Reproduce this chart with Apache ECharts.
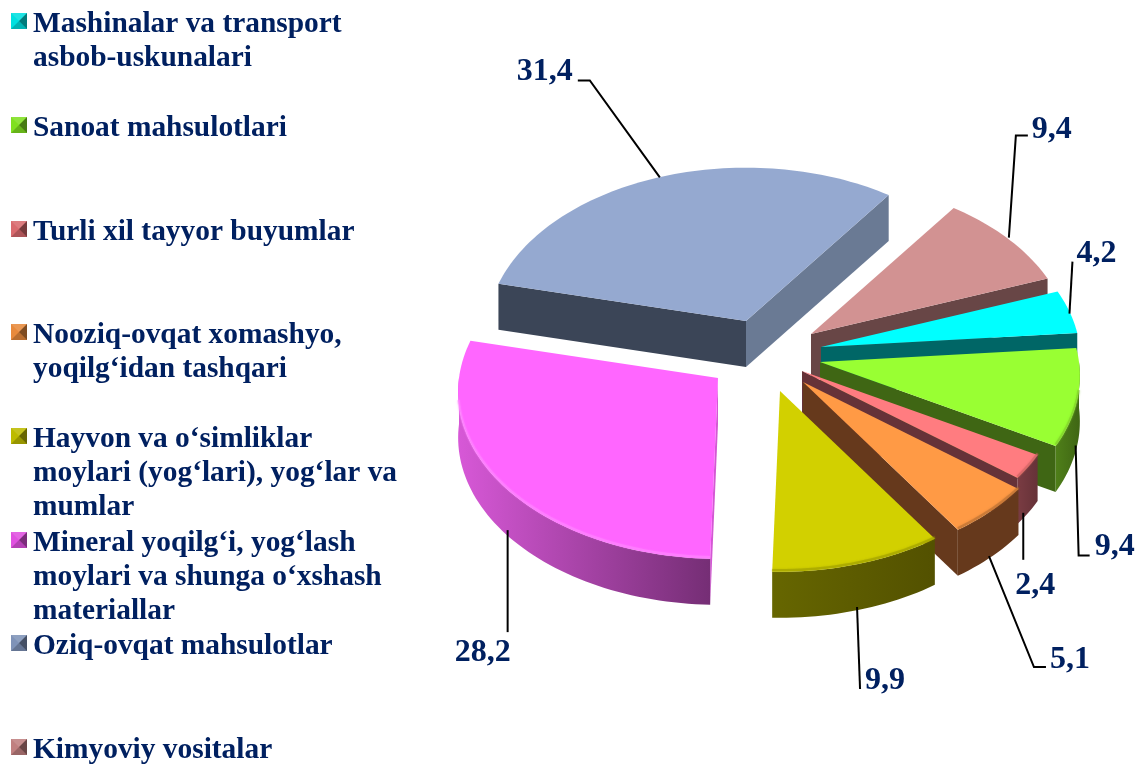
<!DOCTYPE html>
<html>
<head>
<meta charset="utf-8">
<style>html,body{margin:0;padding:0;background:#fff}#c{width:1142px;height:765px}</style>
<script src="https://cdn.jsdelivr.net/npm/echarts@6/dist/echarts.min.js"></script>
</head>
<body>
<div id="c"></div>
<script>
// ---- data ----
const categories = [
  'Mashinalar va transport\nasbob-uskunalari',
  'Sanoat mahsulotlari',
  'Turli xil tayyor buyumlar',
  'Nooziq-ovqat xomashyo,\nyoqilg‘idan tashqari',
  'Hayvon va o‘simliklar\nmoylari (yog‘lari), yog‘lar va\nmumlar',
  'Mineral yoqilg‘i, yog‘lash\nmoylari va shunga o‘xshash\nmateriallar',
  'Oziq-ovqat mahsulotlar',
  'Kimyoviy vositalar'
];
const values = [4.2, 9.4, 2.4, 5.1, 9.9, 28.2, 31.4, 9.4];

// ---- style and layout ----
const topColors  = ['#00FFFF','#99FF33','#FF7C80','#FF9A45','#D2D000','#FF66FF','#95A9D0','#D29292'];
const wallColors = ['#006666','#3F6614','#663238','#66391C','#535100','#D458D4','#3B4557','#684646'];
const endWallColors = ['#006666','#3F6614','#663238','#66391C','#535100','#8A3A8A','#6A7A94','#684646'];
const arcGradients = [null,['#4F7F19','#3F6614'],['#7A3C43','#663238'],['#66391C','#66391C'],['#666600','#535100'],['#D758D7','#752E75'],null,null];
const edgeColors = [null,'#7CC828','#C8605F','#B06A30','#9A9800','#FF8CFF',null,null];
const legendColors = ['#00E0E0','#80E020','#D96A6E','#E88A3C','#BDBB00','#E050E0','#7F93B8','#C08080'];
const paintOrder = [3,4,5,6,7,8,1,2];           // z of each slice, back to front
const startAngle = 70;                           // degrees clockwise from the top
const radius = 259, tilt = 0.645, perspective = 0.082, depth = 46;
const sliceApex = [[821,347],[820,362],[802,371],[803,382],[780,391],[718,378],[746,321],[811,334]];
const leaders = [
  {nudge:[0,2],   steps:[[3,-52]],          label:[4,-8],   align:'left'},
  {nudge:[-2,2],  steps:[[3,110],[11,0]],   label:[5,-9],   align:'left'},
  {nudge:[-5,0],  steps:[[0,47]],           label:[12,26],  align:'center'},
  {nudge:[-2,-1], steps:[[45,111],[12,0]],  label:[4,-7],   align:'left'},
  {nudge:[-1,-3], steps:[[3,82]],           label:[5,-8],   align:'left'},
  {nudge:[5,-1],  steps:[[0,102]],          label:[-25,21], align:'center'},
  {nudge:[-3,1],  steps:[[-70,-97],[-12,0]],label:[-5,-9],  align:'right'},
  {nudge:[1,-1],  steps:[[7,-102],[12,0]],  label:[4,-6],   align:'left'}
];
const legendIconTop = [13,117,221,324,428,532,635,739];
const iconSize = 16, iconLeft = 11, textLeft = 12, textAbove = 5.5, lineH = 34;
const inkColor = '#002060';

// ---- geometry from the values ----
const total = values.reduce((a,b)=>a+b,0);
let running = startAngle;
const spans = values.map(v => { const s = running, e = running + v/total*360; running = e; return [s,e]; });

function rim(i, deg, drop) {
  const t = deg*Math.PI/180, x = radius*Math.sin(t), y = -radius*Math.cos(t);
  const k = 1 + perspective*y/radius, a = sliceApex[i];
  return [a[0] + x*k, a[1] + y*tilt*k + (drop||0)];
}
function arc(i, a, b, drop) {
  const pts = [], n = Math.max(2, Math.ceil(Math.abs(b-a)/1.5));
  for (let j = 0; j <= n; j++) pts.push(rim(i, a+(b-a)*j/n, drop));
  return pts;
}
function sliceGroup(i) {
  const [s,e] = spans[i], a = sliceApex[i], ab = [a[0],a[1]+depth], kids = [];
  const wall = (deg, fill) => kids.push({type:'polygon', shape:{points:[a, rim(i,deg), rim(i,deg,depth), ab]}, style:{fill}});
  if (Math.sin(s*Math.PI/180) < 0) wall(s, wallColors[i]);
  if (Math.sin(e*Math.PI/180) > 0) wall(e, endWallColors[i]);
  const from = Math.max(s,90), to = Math.min(e,270);
  if (to > from) {
    const g = arcGradients[i];
    const fill = g ? new echarts.graphic.LinearGradient(0,0,1,0,[{offset:0,color:g[0]},{offset:1,color:g[1]}]) : wallColors[i];
    kids.push({type:'polygon', shape:{points: arc(i,from,to).concat(arc(i,to,from,depth))}, style:{fill}});
  }
  kids.push({type:'polygon', shape:{points:[a].concat(arc(i,s,e))}, style:{fill:topColors[i]}});
  if (to > from && edgeColors[i]) {
    kids.push({type:'polyline', shape:{points:arc(i,Math.max(from,100),Math.min(to,262),-1.5)},
      style:{fill:null, stroke:edgeColors[i], lineWidth:2.5, opacity:0.45, shadowBlur:2, shadowColor:edgeColors[i]}});
  }
  // leader and value label
  const mid = (s+e)/2, front = Math.cos(mid*Math.PI/180) < 0, L = leaders[i];
  const p0 = rim(i, mid, front ? depth : 0);
  let p = [p0[0]+L.nudge[0], p0[1]+L.nudge[1]];
  const line = [p];
  L.steps.forEach(d => { p = [p[0]+d[0], p[1]+d[1]]; line.push(p); });
  kids.push({type:'polyline', shape:{points:line}, style:{fill:null, stroke:'#000', lineWidth:2}});
  kids.push({type:'text', style:{text:String(values[i]).replace('.',','), x:p[0]+L.label[0], y:p[1]+L.label[1],
    fill:inkColor, font:'bold 32px "Liberation Serif"', textAlign:L.align, textVerticalAlign:'middle'}});
  return {type:'group', children:kids};
}

// ---- legends: one per entry because the reference spaces them unevenly.
// The bevelled bullets sit on the first text line, so they are drawn as graphics. ----
const legends = categories.map((name,i) => ({
  left: textLeft, top: legendIconTop[i] - textAbove, padding: 0, orient:'vertical',
  itemWidth: iconSize, itemHeight: iconSize, icon:'rect',
  selectedMode:false,
  data:[{name, icon:'rect', itemStyle:{color:legendColors[i], opacity:0}}],
  textStyle:{color:inkColor, fontFamily:'Liberation Serif', fontWeight:'bold', fontSize:29.4, lineHeight:lineH}
}));
const bullets = [];
legendIconTop.forEach((y,i) => {
  const x = iconLeft, w = iconSize, cx = x+w/2, cy = y+w/2;
  bullets.push({type:'rect', z:100, silent:true, shape:{x,y,width:w,height:w}, style:{fill:legendColors[i]}});
  bullets.push({type:'polygon', z:101, silent:true, shape:{points:[[x+w,y],[x+w,y+w],[cx,cy]]}, style:{fill:'rgba(0,0,0,0.45)'}});
  bullets.push({type:'polygon', z:101, silent:true, shape:{points:[[x,y+w],[x+w,y+w],[cx,cy]]}, style:{fill:'rgba(0,0,0,0.2)'}});
  bullets.push({type:'polygon', z:101, silent:true, shape:{points:[[x,y],[x+w,y],[cx,cy]]}, style:{fill:'rgba(255,255,255,0.12)'}});
});

const chart = echarts.init(document.getElementById('c'), null, {renderer:'canvas'});
chart.setOption({
  backgroundColor:'#fff',
  animation:false,
  tooltip:{show:false},
  legend: legends,
  graphic: bullets,
  series: categories.map((name,i) => ({
    type:'custom', name, coordinateSystem:'none', z:paintOrder[i]+1, silent:true,
    itemStyle:{color:legendColors[i]},
    data:[values[i]],
    renderItem:() => sliceGroup(i)
  }))
});
</script>
</body>
</html>
